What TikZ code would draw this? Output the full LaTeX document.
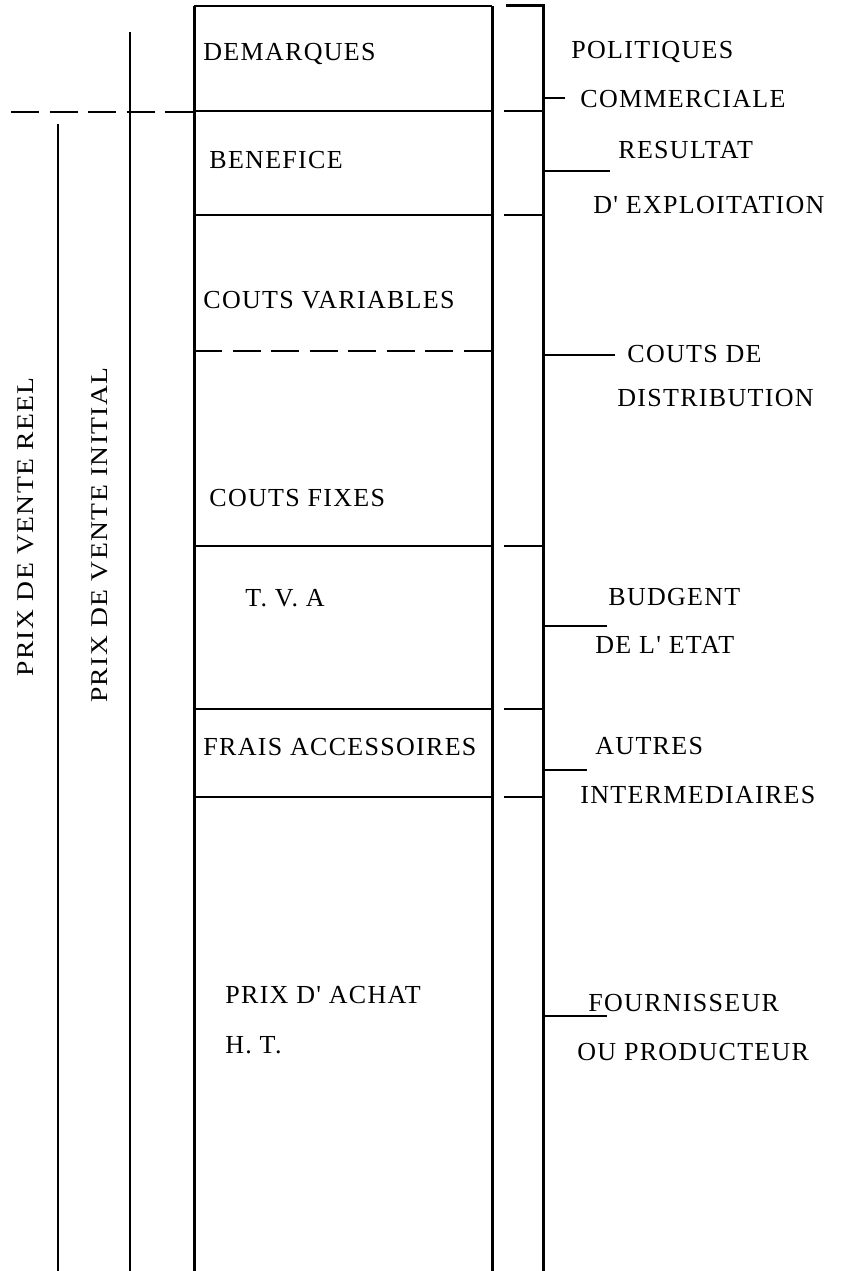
\documentclass[tikz,border=0pt]{standalone}
\usepackage{fontspec}
\usepackage{graphicx}
\newfontfamily\lblfont[LetterSpace=5]{Liberation Serif}
\usetikzlibrary{positioning}
\tikzset{
        lbl/.style = {anchor=base west, inner sep=0pt,
            font=\lblfont\fontsize{13}{15}\selectfont},
        vlbl/.style = {rotate=90, anchor=base, inner sep=0pt,
            font=\lblfont\fontsize{12}{14}\selectfont},
        wall/.style = {line width=1.5pt},
        rule/.style = {line width=0.9pt},
        sep/.style = {line width=0.8pt},
        gap/.style = {line width=1pt, dash pattern=on 14pt off 5.25pt},
    }

\begin{document}
\begin{tikzpicture}[x=0.5pt, y=-0.5pt]
        \useasboundingbox (0,0) rectangle (841,1271);

        % the column
        \coordinate (c1) at (194,6);
        \coordinate (c2) at (492,6);
        \coordinate (c3) at (194,1271);
        \coordinate (c4) at (492,1271);
        \draw[wall] (c3) -- (c1);
        \draw[wall] (c2) -- (c4);
        \draw[sep] (c1) -- (c2);
        \foreach \y in {111,215,546,709,797}
            \draw[sep] (194,\y) -- (492,\y);
        \draw[gap] (194,351) -- (492,351);

        % bracket on the right
        \coordinate (r1) at (506,5);
        \coordinate (r2) at (543,5);
        \coordinate (r3) at (543,1271);
        \draw[wall] (r1) -- (r2) -- (r3);
        \foreach \y in {111,215,546,709,797}
            \draw[sep] (504,\y) -- (543,\y);

        % price lines on the left
        \coordinate (p1) at (130,32);
        \coordinate (p2) at (130,1271);
        \coordinate (q1) at (58,124);
        \coordinate (q2) at (58,1271);
        \coordinate (d1) at (11,112);
        \draw[rule] (p1) -- (p2);
        \draw[rule] (q1) -- (q2);
        \draw[gap] (d1) -- (c1 |- d1);

        \node[vlbl] (reel) at (33,527) {\scalebox{1.15}[1]{PRIX DE VENTE REEL}};
        \node[vlbl] (init) at (107,535) {\scalebox{1.15}[1]{PRIX DE VENTE INITIAL}};

        % inside the column
        \node[lbl] (dem) at (203,60) {DEMARQUES};
        \node[lbl] (ben) at (209,168) {BENEFICE};
        \node[lbl] (cv) at (203,308) {COUTS VARIABLES};
        \node[lbl] (cf) at (209,506) {COUTS FIXES};
        \node[lbl] (tva) at (245,606) {T. V. A};
        \node[lbl] (fa) at (203,755) {FRAIS ACCESSOIRES};
        \node[lbl] (pa) at (225,1003) {PRIX D' ACHAT};
        \node[lbl] (ht) at (225,1053) {H. T.};

        % who gets what
        \node[lbl] (pol) at (571,58) {POLITIQUES};
        \node[lbl] (com) at (580,107) {COMMERCIALE};
        \node[lbl] (res) at (618,158) {RESULTAT};
        \node[lbl] (exp) at (593,213) {D' EXPLOITATION};
        \node[lbl] (cd) at (627,362) {COUTS DE};
        \node[lbl] (dis) at (617,406) {DISTRIBUTION};
        \node[lbl] (bud) at (608,605) {BUDGENT};
        \node[lbl] (eta) at (595,653) {DE L' ETAT};
        \node[lbl] (aut) at (595,754) {AUTRES};
        \node[lbl] (int) at (580,803) {INTERMEDIAIRES};
        \node[lbl] (fou) at (588,1011) {FOURNISSEUR};
        \node[lbl] (pro) at (577,1060) {OU PRODUCTEUR};

        \coordinate (t1) at (565,98);
        \coordinate (t2) at (610,171);
        \coordinate (t3) at (615,355);
        \coordinate (t4) at (607,626);
        \coordinate (t5) at (587,770);
        \coordinate (t6) at (607,1016);
        \draw[sep] (r2 |- t1) -- (t1);
        \draw[sep] (r2 |- t2) -- (t2);
        \draw[sep] (r2 |- t3) -- (t3);
        \draw[sep] (r2 |- t4) -- (t4);
        \draw[sep] (r2 |- t5) -- (t5);
        \draw[sep] (r2 |- t6) -- (t6);
\end{tikzpicture}
\end{document}
